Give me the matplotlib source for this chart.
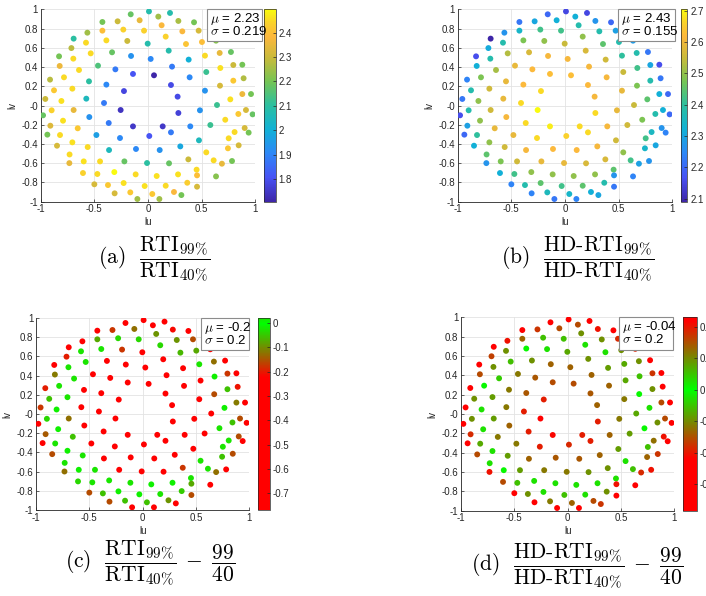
import numpy as np
import matplotlib.pyplot as plt
from matplotlib.colors import LinearSegmentedColormap, ListedColormap
from matplotlib.patches import Rectangle
from matplotlib.ticker import MultipleLocator, FuncFormatter

plt.rcParams['mathtext.fontset'] = 'cm'
plt.rcParams['font.family'] = ['Liberation Sans', 'DejaVu Sans']

# light directions on the dome
lu = [0.009, 0.205, -0.161, 0.096, -0.425, -0.283, -0.078, 0.283, 0.429, 0.127,
      -0.425, -0.230, -0.037, 0.320, 0.472, -0.565, 0.165, -0.693, -0.388, -0.193,
      -0.578, -0.003, 0.354, 0.503, 0.634, -0.714, -0.534, -0.335, 0.193, 0.531,
      0.668, 0.773, -0.829, -0.696, -0.158, 0.025, 0.379, -0.823, -0.466, 0.674,
      0.795, 0.879, -0.643, -0.304, 0.224, 0.543, -0.140, 0.056, 0.388, -0.913,
      -0.783, 0.891, 0.795, -0.550, -0.388, 0.214, 0.671, -0.876, -0.705, -0.224,
      0.531, -0.957, -0.807, -0.575, 0.276, 0.767, 0.960, 0.879, -0.410, 0.643,
      -0.898, -0.693, -0.255, 0.484, 0.913, -0.978, -0.547, 0.283, 0.842, 0.975,
      -0.792, 0.720, -0.366, -0.140, 0.137, -0.910, -0.655, 0.581, 0.394, 0.807,
      0.901, 0.214, -0.938, 0.938, -0.820, -0.481, 0.012, -0.261, 0.752, -0.705,
      0.475, -0.848, -0.562, 0.301, 0.845, 0.745, -0.363, -0.112, 0.109, 0.543,
      -0.731, 0.376, -0.220, -0.599, -0.447, -0.009, 0.196, 0.612, 0.783, -0.733,
      0.689, 0.453, -0.606, -0.472, -0.314, -0.115, 0.081, 0.280, 0.457, 0.634,
      -0.500, -0.373, -0.227, -0.031, 0.165, 0.366, 0.457, -0.311, -0.165, 0.040,
      0.242, 0.311, -0.099, 0.106]
lv = [0.978, 0.962, 0.948, 0.924, 0.868, 0.875, 0.886, 0.879, 0.865, 0.834,
      0.778, 0.789, 0.778, 0.771, 0.778, 0.757, 0.716, 0.695, 0.677, 0.671,
      0.653, 0.643, 0.639, 0.660, 0.674, 0.597, 0.542, 0.553, 0.570, 0.518,
      0.546, 0.556, 0.511, 0.487, 0.515, 0.484, 0.477, 0.411, 0.414, 0.390,
      0.421, 0.424, 0.369, 0.376, 0.404, 0.348, 0.328, 0.314, 0.293, 0.269,
      0.293, 0.283, 0.258, 0.251, 0.217, 0.213, 0.206, 0.158, 0.175, 0.150,
      0.154, 0.068, 0.047, 0.071, 0.092, 0.064, 0.119, 0.119, 0.026, 0.005,
      -0.050, -0.047, -0.047, -0.050, -0.047, -0.102, -0.120, -0.078, -0.088, -0.092,
      -0.158, -0.148, -0.182, -0.217, -0.217, -0.210, -0.237, -0.203, -0.217, -0.276,
      -0.234, -0.279, -0.303, -0.282, -0.307, -0.307, -0.317, -0.338, -0.341, -0.383,
      -0.362, -0.418, -0.432, -0.425, -0.414, -0.445, -0.463, -0.452, -0.463, -0.487,
      -0.509, -0.560, -0.581, -0.581, -0.581, -0.598, -0.601, -0.570, -0.577, -0.599,
      -0.605, -0.667, -0.702, -0.712, -0.692, -0.716, -0.733, -0.716, -0.726, -0.737,
      -0.819, -0.827, -0.806, -0.837, -0.834, -0.803, -0.844, -0.913, -0.903, -0.920,
      -0.899, -0.931, -0.972, -0.972]

# RTI_99% / RTI_40% per light
rti_ratio = [2.08, 2.08, 2.18, 2.25, 2.20, 2.30, 2.35, 2.26, 2.20, 2.38,
             2.40, 2.44, 2.44, 2.38, 2.32, 2.25, 2.44, 2.10, 2.45, 2.30,
             2.45, 2.08, 2.41, 2.40, 2.22, 2.28, 2.45, 2.18, 2.08, 2.45,
             2.35, 2.18, 2.20, 2.45, 1.93, 1.91, 2.00, 2.36, 2.15, 2.46,
             2.30, 2.20, 2.45, 1.88, 1.88, 2.12, 1.81, 1.707, 1.91, 2.28,
             2.45, 2.27, 2.42, 2.10, 1.91, 1.79, 2.32, 2.42, 2.45, 1.78,
             1.93, 2.30, 2.46, 2.05, 1.79, 2.46, 2.20, 2.36, 1.88, 2.12,
             2.44, 2.35, 1.74, 1.93, 2.32, 2.18, 1.93, 1.77, 2.42, 2.18,
             2.46, 2.45, 1.88, 1.75, 1.75, 2.33, 2.42, 2.12, 1.91, 2.45,
             2.32, 1.88, 2.20, 2.20, 2.45, 1.96, 1.81, 1.91, 2.45, 2.46,
             2.05, 2.32, 2.45, 1.98, 2.32, 2.42, 2.05, 1.91, 1.93, 2.45,
             2.45, 2.30, 2.18, 2.46, 2.45, 2.10, 2.18, 2.45, 2.20, 2.35,
             2.35, 2.45, 2.44, 2.45, 2.496, 2.45, 2.46, 2.46, 2.40, 2.22,
             2.32, 2.42, 2.46, 2.46, 2.45, 2.43, 2.32, 2.32, 2.42, 2.42,
             2.38, 2.20, 2.25, 2.25]

# HD-RTI_99% / HD-RTI_40% per light
hdrti_ratio = [2.15, 2.15, 2.20, 2.32, 2.22, 2.30, 2.32, 2.27, 2.20, 2.38,
               2.34, 2.42, 2.42, 2.38, 2.29, 2.27, 2.50, 2.09, 2.48, 2.50,
               2.38, 2.55, 2.45, 2.38, 2.28, 2.31, 2.53, 2.57, 2.57, 2.40,
               2.38, 2.22, 2.16, 2.38, 2.61, 2.61, 2.56, 2.32, 2.59, 2.42,
               2.30, 2.16, 2.52, 2.62, 2.61, 2.55, 2.63, 2.63, 2.61, 2.24,
               2.48, 2.22, 2.38, 2.59, 2.62, 2.62, 2.48, 2.38, 2.56, 2.67,
               2.59, 2.22, 2.50, 2.59, 2.61, 2.45, 2.20, 2.32, 2.67, 2.55,
               2.38, 2.56, 2.705, 2.59, 2.32, 2.16, 2.61, 2.67, 2.38, 2.20,
               2.50, 2.48, 2.67, 2.69, 2.67, 2.29, 2.59, 2.56, 2.61, 2.35,
               2.27, 2.67, 2.20, 2.24, 2.40, 2.59, 2.66, 2.67, 2.42, 2.50,
               2.56, 2.32, 2.56, 2.61, 2.30, 2.34, 2.61, 2.62, 2.62, 2.50,
               2.45, 2.57, 2.59, 2.48, 2.56, 2.59, 2.57, 2.42, 2.27, 2.27,
               2.29, 2.45, 2.32, 2.42, 2.50, 2.50, 2.50, 2.50, 2.27, 2.24,
               2.24, 2.38, 2.45, 2.42, 2.45, 2.38, 2.22, 2.24, 2.36, 2.34,
               2.32, 2.30, 2.22, 2.24]

ratio_ref = 99 / 40

parula = LinearSegmentedColormap.from_list('parula', [
    (0.000, (0.2422, 0.1504, 0.6603)),
    (0.125, (0.2810, 0.3228, 0.9579)),
    (0.250, (0.1786, 0.5289, 0.9682)),
    (0.375, (0.0689, 0.6948, 0.8394)),
    (0.500, (0.1700, 0.7500, 0.6300)),
    (0.625, (0.4600, 0.7700, 0.3300)),
    (0.750, (0.7900, 0.7300, 0.2300)),
    (0.860, (0.9900, 0.7200, 0.2400)),
    (0.930, (0.9800, 0.8200, 0.1700)),
    (1.000, (0.9763, 0.9831, 0.0538))])


def red_green(vmin, vmax, span=0.22):
    # green at zero, fading to red once |value| reaches span
    vals = np.linspace(vmin, vmax, 256)
    t = np.clip(np.abs(vals) / span, 0, 1)
    return ListedColormap(np.column_stack([t, 1 - t, np.zeros_like(t)]))


def num_fmt(x, pos=None):
    return '%g' % round(x, 6)


W, H = 706, 596
fig = plt.figure(figsize=(W / 100, H / 100), dpi=100)


def fig_rect(x0, y0, x1, y1):
    return [x0 / W, 1 - y1 / H, (x1 - x0) / W, (y1 - y0) / H]


a = np.array(rti_ratio)
b = np.array(hdrti_ratio)

frac_rti = r'\dfrac{\mathrm{RTI}_{99\%}}{\mathrm{RTI}_{40\%}}'
frac_hd = r'\dfrac{\text{HD-RTI}_{99\%}}{\text{HD-RTI}_{40\%}}'
minus_ref = r'\;-\;\dfrac{99}{40}'

panels = [
    dict(vals=a, prec=3, ax=(40.7, 9.3, 255.3, 201.7), cb=(263.7, 275.7),
         box=(206.7, 9.3, 262, 40.7),
         cap=r'$(\mathrm{a})\;\;\,' + frac_rti + '$', cap_xy=(154.5, 259)),
    dict(vals=b, prec=3, ax=(457.7, 9.3, 672.3, 201.7), cb=(680.7, 687.3),
         box=(617.7, 9.3, 675, 40.7),
         cap=r'$(\mathrm{b})\;\;\,' + frac_hd + '$', cap_xy=(577.5, 259)),
    dict(vals=a - ratio_ref, prec=1, ax=(36, 318, 249.3, 510), cb=(258.3, 270),
         box=(201, 318, 249.3, 350),
         cap=r'$(\mathrm{c})\;\;\,' + frac_rti + minus_ref + '$', cap_xy=(150, 563)),
    dict(vals=b - ratio_ref, prec=1, ax=(461, 317.3, 674.3, 510.7), cb=(683.3, 696.7),
         box=(619.3, 317.3, 673.3, 350),
         cap=r'$(\mathrm{d})\;\;\,' + frac_hd + minus_ref + '$', cap_xy=(577, 566)),
]

tick_col = '#262626'
for i, p in enumerate(panels):
    x0, y0, x1, y1 = p['ax']
    ax = fig.add_axes(fig_rect(x0, y0, x1, y1))
    vals = p['vals']
    vmin, vmax = vals.min(), vals.max()
    cmap = parula if i < 2 else red_green(vmin, vmax)
    sc = ax.scatter(lu, lv, c=vals, cmap=cmap, vmin=vmin, vmax=vmax, s=18,
                    linewidths=0, zorder=3)
    ax.set_xlim(-1, 1)
    ax.set_ylim(-1, 1)
    ax.set_xticks(np.arange(-1, 1.01, 0.5))
    ax.set_yticks(np.arange(-1, 1.01, 0.2))
    ax.xaxis.set_major_formatter(FuncFormatter(num_fmt))
    ax.yaxis.set_major_formatter(FuncFormatter(num_fmt))
    ax.grid(True, color='#e3e3e3', lw=0.6, zorder=0)
    ax.set_axisbelow(True)
    for side in ['top', 'right']:
        ax.spines[side].set_visible(False)
    for side in ['left', 'bottom']:
        ax.spines[side].set_color(tick_col)
        ax.spines[side].set_linewidth(0.6)
    ax.tick_params(direction='in', length=2.5, width=0.5, labelsize=7,
                   colors=tick_col, pad=2)
    ax.set_xlabel('lu', fontsize=7, color=tick_col, labelpad=2)
    ax.set_ylabel('lv', fontsize=7, color=tick_col, labelpad=3)

    cx0, cx1 = p['cb']
    cax = fig.add_axes(fig_rect(cx0, y0, cx1, y1))
    cbar = fig.colorbar(sc, cax=cax)
    cbar.outline.set_linewidth(0.5)
    cbar.outline.set_edgecolor(tick_col)
    cax.yaxis.set_major_locator(MultipleLocator(0.1))
    cax.yaxis.set_major_formatter(FuncFormatter(num_fmt))
    cax.tick_params(direction='in', length=2, width=0.5, labelsize=7,
                    colors=tick_col, pad=2)

    # mean / std annotation
    bx0, by0, bx1, by1 = p['box']
    fig.add_artist(Rectangle((bx0 / W, 1 - by1 / H), (bx1 - bx0) / W, (by1 - by0) / H,
                             transform=fig.transFigure, facecolor='white',
                             edgecolor='#8c8c8c', lw=0.8, zorder=5))
    fmt = '%.' + str(p['prec']) + 'g'
    mu = fmt % vals.mean()
    sd = fmt % vals.std(ddof=1)
    fig.text((bx0 + 3) / W, 1 - (by0 + 9.8) / H, r'$\mu$ = ' + mu, fontsize=9.5,
             va='center', ha='left', zorder=6)
    fig.text((bx0 + 3) / W, 1 - (by0 + 22.4) / H, r'$\sigma$ = ' + sd, fontsize=9.5,
             va='center', ha='left', zorder=6)

    cx, cy = p['cap_xy']
    fig.text(cx / W, 1 - cy / H, p['cap'], fontsize=15.5, ha='center', va='center')

fig.savefig('out.png', dpi=100)
